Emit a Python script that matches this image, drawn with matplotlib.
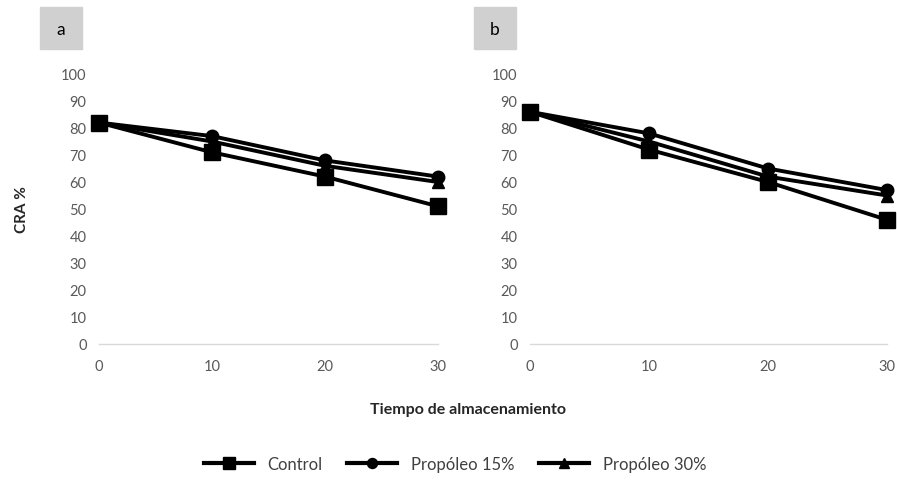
import matplotlib.pyplot as plt
from matplotlib.patches import Rectangle

plt.rcParams['font.family'] = ['Lato', 'DejaVu Sans']

# Storage days
dias = [0, 10, 20, 30]

# Panel a
control_a = [82, 71, 62, 51]
prop15_a = [82, 77, 68, 62]
prop30_a = [82, 75, 66, 60]

# Panel b
control_b = [86, 72, 60, 46]
prop15_b = [86, 78, 65, 57]
prop30_b = [86, 75, 62, 55]

series_names = ["Control", "Propóleo 15%", "Propóleo 30%"]
yticks = list(range(0, 101, 10))

fig = plt.figure(figsize=(8.97, 4.81), dpi=100)
ax_a = fig.add_axes([99 / 897, 136 / 481, 339 / 897, 270 / 481])
ax_b = fig.add_axes([530 / 897, 136 / 481, 357 / 897, 270 / 481])

styles = [
    dict(marker='s', markersize=11),
    dict(marker='o', markersize=9),
    dict(marker='^', markersize=9),
]


def draw_panel(ax, data, letter, box_x):
    for vals, name, st in zip(data, series_names, styles):
        ax.plot(dias, vals, color='black', lw=2.8, label=name,
                clip_on=False, **st)
    ax.set_xlim(0, 30)
    ax.set_ylim(0, 100)
    ax.set_xticks(dias)
    ax.set_yticks(yticks)
    for s in ['top', 'right', 'left']:
        ax.spines[s].set_visible(False)
    ax.spines['bottom'].set_color('#d9d9d9')
    ax.spines['bottom'].set_linewidth(1.0)
    ax.tick_params(length=0, labelsize=10.5, labelcolor='#595959', pad=9)
    ax.tick_params(axis='x', pad=11)
    # letter box
    fig.patches.append(Rectangle((box_x / 897, 1 - 50 / 481), 42 / 897, 42 / 481,
                                 transform=fig.transFigure, color='#d0d0d0',
                                 zorder=0))
    fig.text((box_x + 21) / 897, 1 - 30 / 481, letter, ha='center', va='center',
             fontsize=12.5)


draw_panel(ax_a, [control_a, prop15_a, prop30_a], 'a', 40)
draw_panel(ax_b, [control_b, prop15_b, prop30_b], 'b', 474)

fig.text(22 / 897, 1 - 210 / 481, 'CRA %', rotation=90, ha='center', va='center',
         fontsize=11, fontweight='bold', color='#262626')
fig.text(468 / 897, 1 - 410 / 481, 'Tiempo de almacenamiento', ha='center',
         va='center', fontsize=11.5, fontweight='bold', color='#262626')

leg_handles = []
for st, name in zip(styles, series_names):
    h, = plt.plot([], [], color='black', lw=3, marker=st['marker'],
                  markersize=st['markersize'] * 0.8)
    leg_handles.append(h)
fig.legend(leg_handles, series_names, loc='center', bbox_to_anchor=(455 / 897, 1 - 465 / 481),
           ncol=3, frameon=False, fontsize=12, handlelength=3.0, columnspacing=1.5,
           handletextpad=0.8, labelcolor='#404040')

fig.savefig('out.png', dpi=100)
